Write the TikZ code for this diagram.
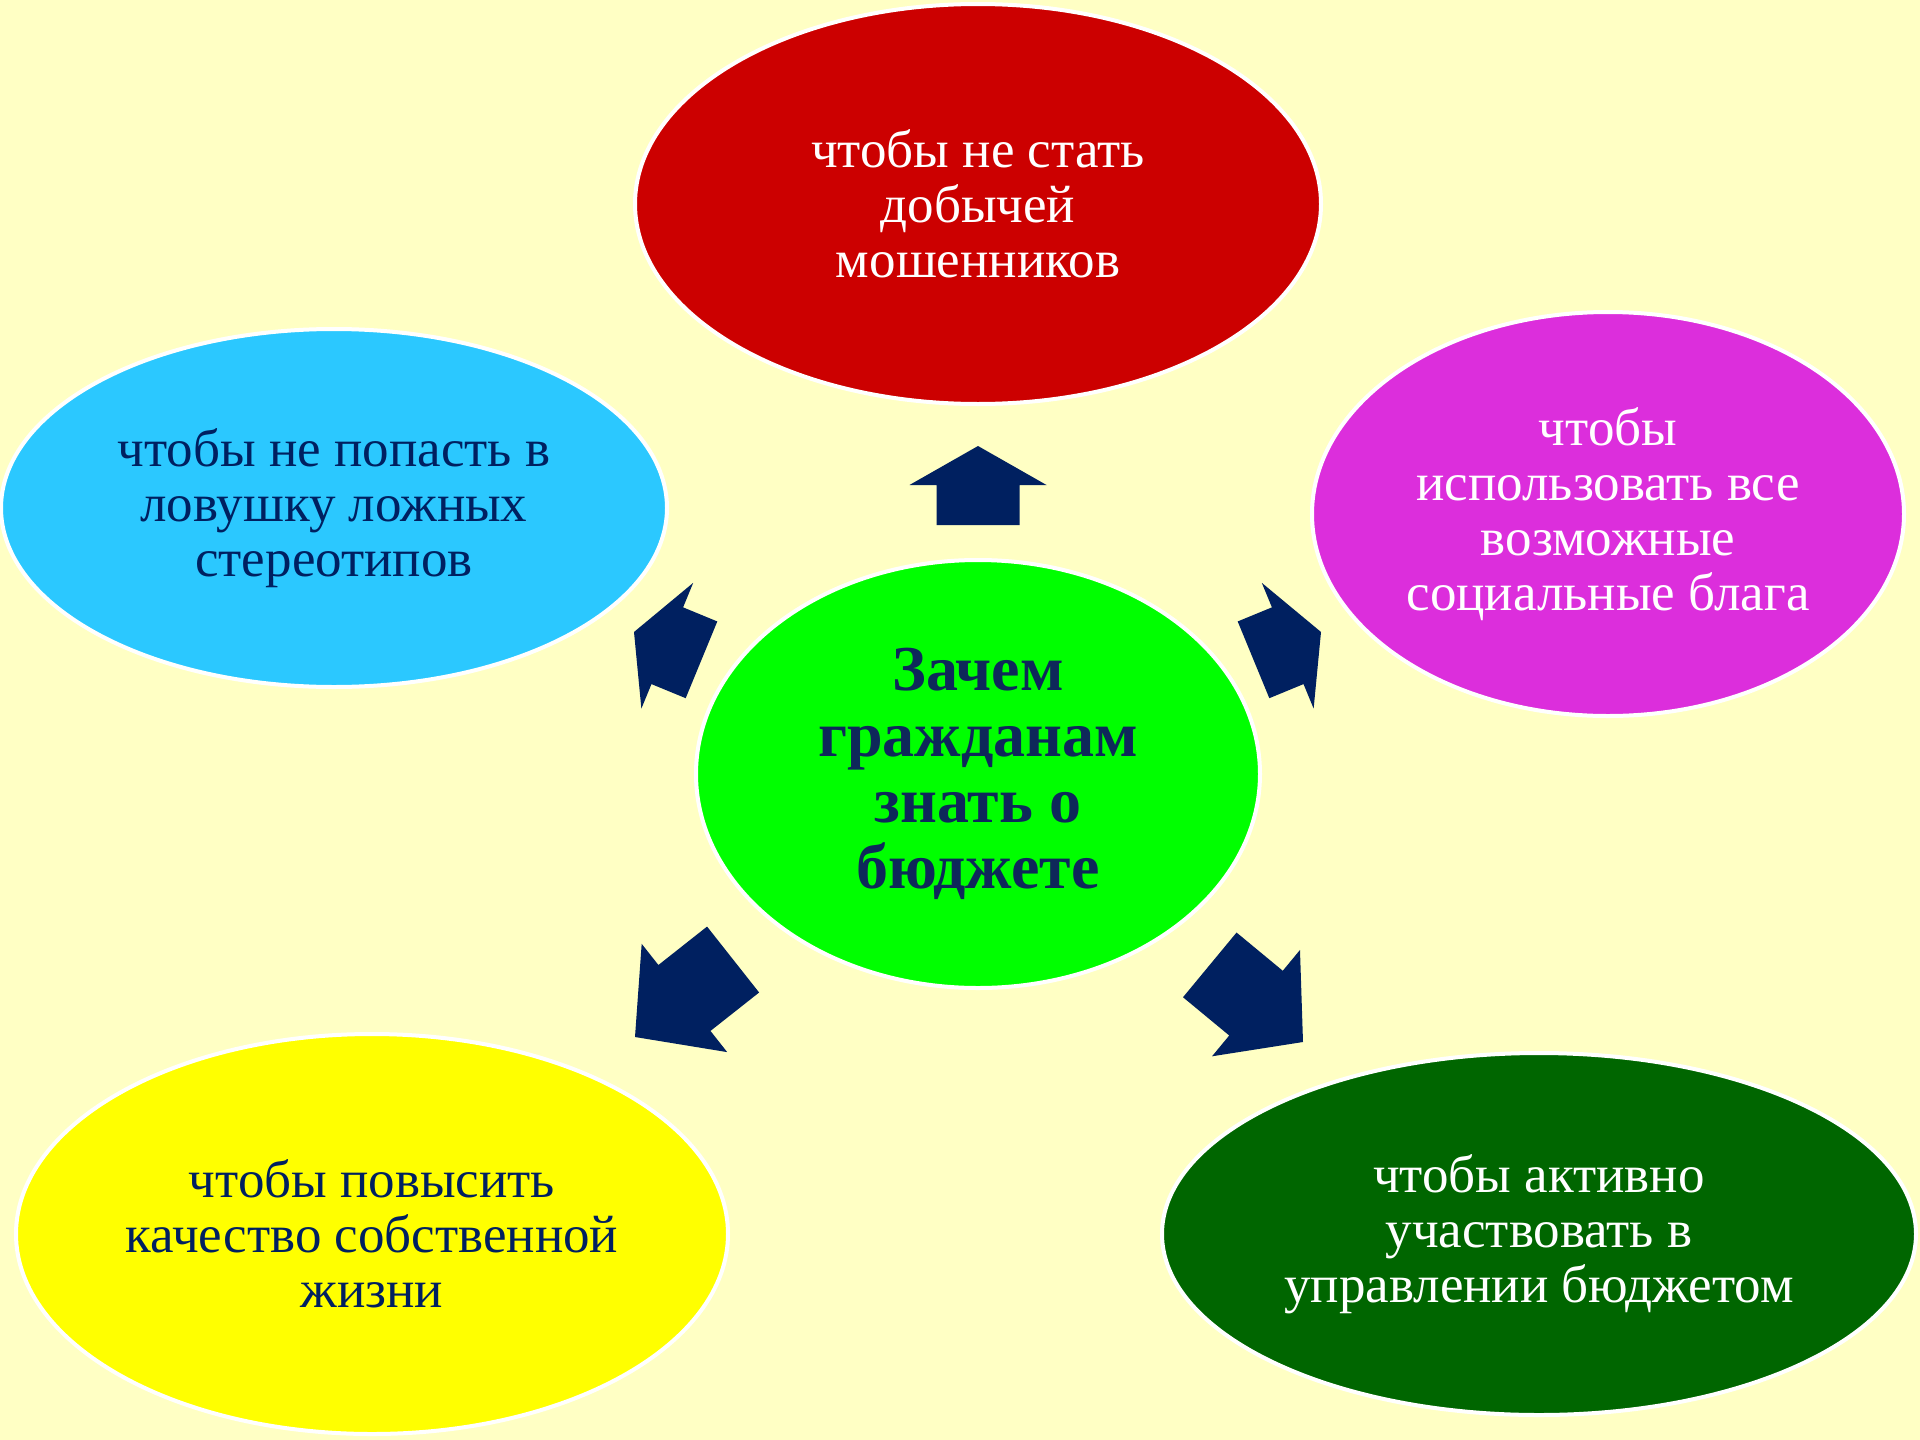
\documentclass[tikz,border=0pt]{standalone}
\usepackage{fontspec}
\setmainfont{Liberation Serif}
\usetikzlibrary{shapes.geometric}
\definecolor{bgyel}{RGB}{255,255,196}
\definecolor{navy}{RGB}{0,32,96}
\definecolor{cred}{RGB}{204,0,0}
\definecolor{ccyan}{RGB}{43,200,255}
\definecolor{cmag}{RGB}{220,46,220}
\definecolor{cgreen}{RGB}{0,255,0}
\definecolor{cyel}{RGB}{255,255,0}
\definecolor{cdkgreen}{RGB}{0,102,0}
\definecolor{ctitle}{RGB}{14,40,90}
\tikzset{
  bubble/.style={ellipse, draw=white, line width=4pt, inner sep=0pt, align=center,
    font=\fontsize{53}{55}\selectfont},
  barrow/.style={fill=navy, draw=none},
}
\begin{document}
\begin{tikzpicture}[x=1pt,y=-1pt]
\fill[bgyel] (0,0) rectangle (1920,1440);
\useasboundingbox (0,0) rectangle (1920,1440);

\node[bubble, fill=cred, text=white, minimum width=686pt, minimum height=400pt] (red) at (978,204)
  {чтобы не стать\\добычей\\мошенников};
\node[bubble, fill=ccyan, text=navy, minimum width=666pt, minimum height=358pt] (cyan) at (334,508)
  {чтобы не попасть в\\ловушку ложных\\стереотипов};
\node[bubble, fill=cmag, text=white, minimum width=592pt, minimum height=404pt] (mag) at (1608,514)
  {чтобы\\использовать все\\возможные\\социальные блага};
\node[bubble, fill=cgreen, text=ctitle, minimum width=564pt, minimum height=428pt,
  font=\bfseries\fontsize{64}{66}\selectfont] (center) at (978,774)
  {Зачем\\гражданам\\знать о\\бюджете};
\node[bubble, fill=cyel, text=navy, minimum width=712pt, minimum height=400pt] (yel) at (372,1234)
  {чтобы повысить\\качество собственной\\жизни};
\node[bubble, fill=cdkgreen, text=white, minimum width=754pt, minimum height=362pt] (dkg) at (1539,1234)
  {чтобы активно\\участвовать в\\управлении бюджетом};

% block arrows: tip coordinate and direction angle (canvas, y up)
\coordinate (tU) at (978,446);
\coordinate (tUL) at (634,632);
\coordinate (tUR) at (1321,632);
\coordinate (tLL) at (635,1037);
\coordinate (tLR) at (1303,1042);

\fill[barrow, shift={(tU)}, rotate=90]
  (0,0) -- (-39,68.5) -- (-39,41.5) -- (-79,41.5) -- (-79,-41.5) -- (-39,-41.5) -- (-39,-68.5) -- cycle;
\fill[barrow, shift={(tUL)}, rotate=157.6]
  (0,0) -- (-36,68) -- (-36,41.5) -- (-73,41.5) -- (-73,-41.5) -- (-36,-41.5) -- (-36,-68) -- cycle;
\fill[barrow, shift={(tUR)}, rotate=22.4]
  (0,0) -- (-36,68) -- (-36,41.5) -- (-73,41.5) -- (-73,-41.5) -- (-36,-41.5) -- (-36,-68) -- cycle;
\fill[barrow, shift={(tLL)}, rotate=218.3]
  (0,0) -- (-63,69) -- (-63,42) -- (-125,42) -- (-125,-42) -- (-63,-42) -- (-63,-69) -- cycle;
\fill[barrow, shift={(tLR)}, rotate=-39.6]
  (0,0) -- (-61,69) -- (-61,42) -- (-121,42) -- (-121,-42) -- (-61,-42) -- (-61,-69) -- cycle;
\end{tikzpicture}
\end{document}
